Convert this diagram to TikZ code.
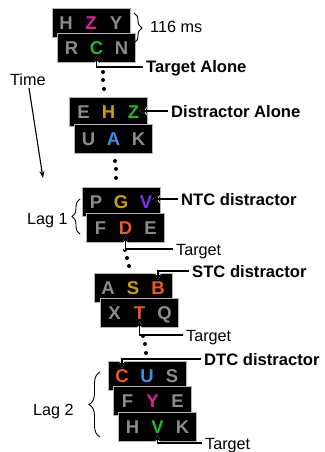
\documentclass[tikz,border=0pt]{standalone}
\usepackage{fontspec}
\setmainfont{Liberation Sans}
\usetikzlibrary{arrows.meta,decorations.pathreplacing}

\definecolor{lgray}{HTML}{8C8C8C}
\definecolor{lmag}{HTML}{E0209E}
\definecolor{lgreen}{HTML}{22B822}
\definecolor{lgold}{HTML}{C9A200}
\definecolor{lblue}{HTML}{3B8EE6}
\definecolor{lviolet}{HTML}{7A2EEE}
\definecolor{lorange}{HTML}{F05A16}
\definecolor{rim}{HTML}{B4B4B4}

% one display of the stream: black frame with three letters
% #1 name, #2 x, #3 y, then colour/letter pairs
\newcommand\stimframe[9]{%
  \node[frame] (#1) at (#2,#3) {};
  \node[glyph, text=#4] (#1a) at (#2-25,#3+6.4) {#5};
  \node[glyph, text=#6] (#1b) at (#2,#3+6.4) {#7};
  \node[glyph, text=#8] (#1c) at (#2+25,#3+6.4) {#9};
}

\begin{document}
\begin{tikzpicture}[x=1pt,y=-1pt,
  frame/.style={draw=rim, line width=0.7pt, fill=black,
    minimum width=78pt, minimum height=29pt, inner sep=0pt},
  glyph/.style={font=\fontsize{18.5}{18}\selectfont\bfseries, inner sep=0pt, anchor=base},
  lbl/.style={font=\fontsize{16.6}{18}\selectfont\bfseries, inner sep=0pt, anchor=base west},
  plain/.style={font=\fontsize{16.2}{18}\selectfont, inner sep=0pt, anchor=base west},
  ptr/.style={line width=1.5pt, -{Stealth[length=6.5pt,width=6.5pt]},
    preaction={draw=white, line width=2.5pt, -{Stealth[length=8pt,width=8pt]}}},
  tarr/.style={line width=1.1pt, -{Stealth[length=7pt,width=5pt]}},
  dot/.style={circle, fill=black, inner sep=0pt, minimum size=4pt},
  brc/.style={decorate, line width=0.9pt},
]
\useasboundingbox (0,0) rectangle (324,452);

% stream of letter displays
\stimframe{f1}{91}{23}{lgray}{H}{lmag}{Z}{lgray}{Y}
\stimframe{f2}{96.5}{48}{lgray}{R}{lgreen}{C}{lgray}{N}
\stimframe{f3}{108.5}{112}{lgray}{E}{lgold}{H}{lgreen}{Z}
\stimframe{f4}{113.5}{139}{lgray}{U}{lblue}{A}{lgray}{K}
\stimframe{f5}{121}{202}{lgray}{P}{lgold}{G}{lviolet}{V}
\stimframe{f6}{125.5}{228}{lgray}{F}{lorange}{D}{lgray}{E}
\stimframe{f7}{133}{288}{lgray}{A}{lgold}{S}{lorange}{B}
\stimframe{f8}{139.5}{313}{lgray}{X}{lorange}{T}{lgray}{Q}
\stimframe{f9}{147}{376}{lorange}{C}{lblue}{U}{lgray}{S}
\stimframe{f10}{152.5}{401}{lgray}{F}{lmag}{Y}{lgray}{E}
\stimframe{f11}{157.5}{427}{lgray}{H}{lgreen}{V}{lgray}{K}

% ellipsis dots between displays
\foreach \p [count=\i] in {(103,72),(103,80),(104,89),
                           (115,161),(116,169),(116,178),
                           (125,250),(127,258),(129,266),
                           (143,336),(145,344),(146,353)}
  \node[dot] (d\i) at \p {};

% labels
\node[lbl] (ta) at (146,73) {Target Alone};
\node[lbl] (da) at (171,117) {Distractor Alone};
\node[lbl] (ntc) at (181,205) {NTC distractor};
\node[plain] (tg1) at (176,255) {Target};
\node[lbl] (stc) at (192,277) {STC distractor};
\node[plain] (tg2) at (186,341) {Target};
\node[lbl] (dtc) at (204,365) {DTC distractor};
\node[plain] (tg3) at (205,449) {Target};
\node[plain] (ms) at (150,33) {116 ms};
\node[plain] (time) at (10,85) {Time};
\node[plain] (lag1) at (27,224) {Lag 1};
\node[plain] (lag2) at (33,415) {Lag 2};

% line ends beside the labels
\coordinate (ta-l)  at ([shift={(-3.5,-5.9)}]ta.base west);
\coordinate (da-l)  at ([shift={(-3.5,-5.9)}]da.base west);
\coordinate (ntc-l) at ([shift={(-3.5,-5.9)}]ntc.base west);
\coordinate (tg1-l) at ([shift={(-3.5,-5.8)}]tg1.base west);
\coordinate (stc-l) at ([shift={(-3.5,-5.9)}]stc.base west);
\coordinate (tg2-l) at ([shift={(-3.5,-5.8)}]tg2.base west);
\coordinate (dtc-l) at ([shift={(-3.5,-5.9)}]dtc.base west);
\coordinate (tg3-l) at ([shift={(-3.5,-5.8)}]tg3.base west);

% pointers to the letters
\draw[ptr] (ta-l) -| ([shift={(0,1.5)}]f2b.south);
\draw[ptr] (da-l) -- (da-l -| f3c.east);
\draw[ptr] (ntc-l) -- (ntc-l -| f5c.east);
\draw[ptr] (tg1-l) -| ([shift={(0,1.5)}]f6b.south);
\draw[ptr] (stc-l) -| ([shift={(0,-1)}]f7c.north);
\draw[ptr] (tg2-l) -| ([shift={(0,1.5)}]f8b.south);
\draw[ptr] (dtc-l) -| ([shift={(0,-1)}]f9a.north);
\draw[ptr] (tg3-l) -| ([shift={(0,1.5)}]f11b.south);

% braces
\coordinate (b1s) at (134,13);  \coordinate (b1e) at (134,43);
\coordinate (b2s) at (80,234);  \coordinate (b2e) at (80,199);
\coordinate (b3s) at (100,437); \coordinate (b3e) at (100,372);
\draw[brc, decoration={brace, amplitude=8pt}] (b1s) -- (b1e);
\draw[brc, decoration={brace, amplitude=8pt}] (b2s) -- (b2e);
\draw[brc, decoration={brace, amplitude=11pt}] (b3s) -- (b3e);

% time axis
\coordinate (tend) at (43,178);
\draw[tarr] ([shift={(19,3)}]time.base west) -- (tend);
\end{tikzpicture}
\end{document}
